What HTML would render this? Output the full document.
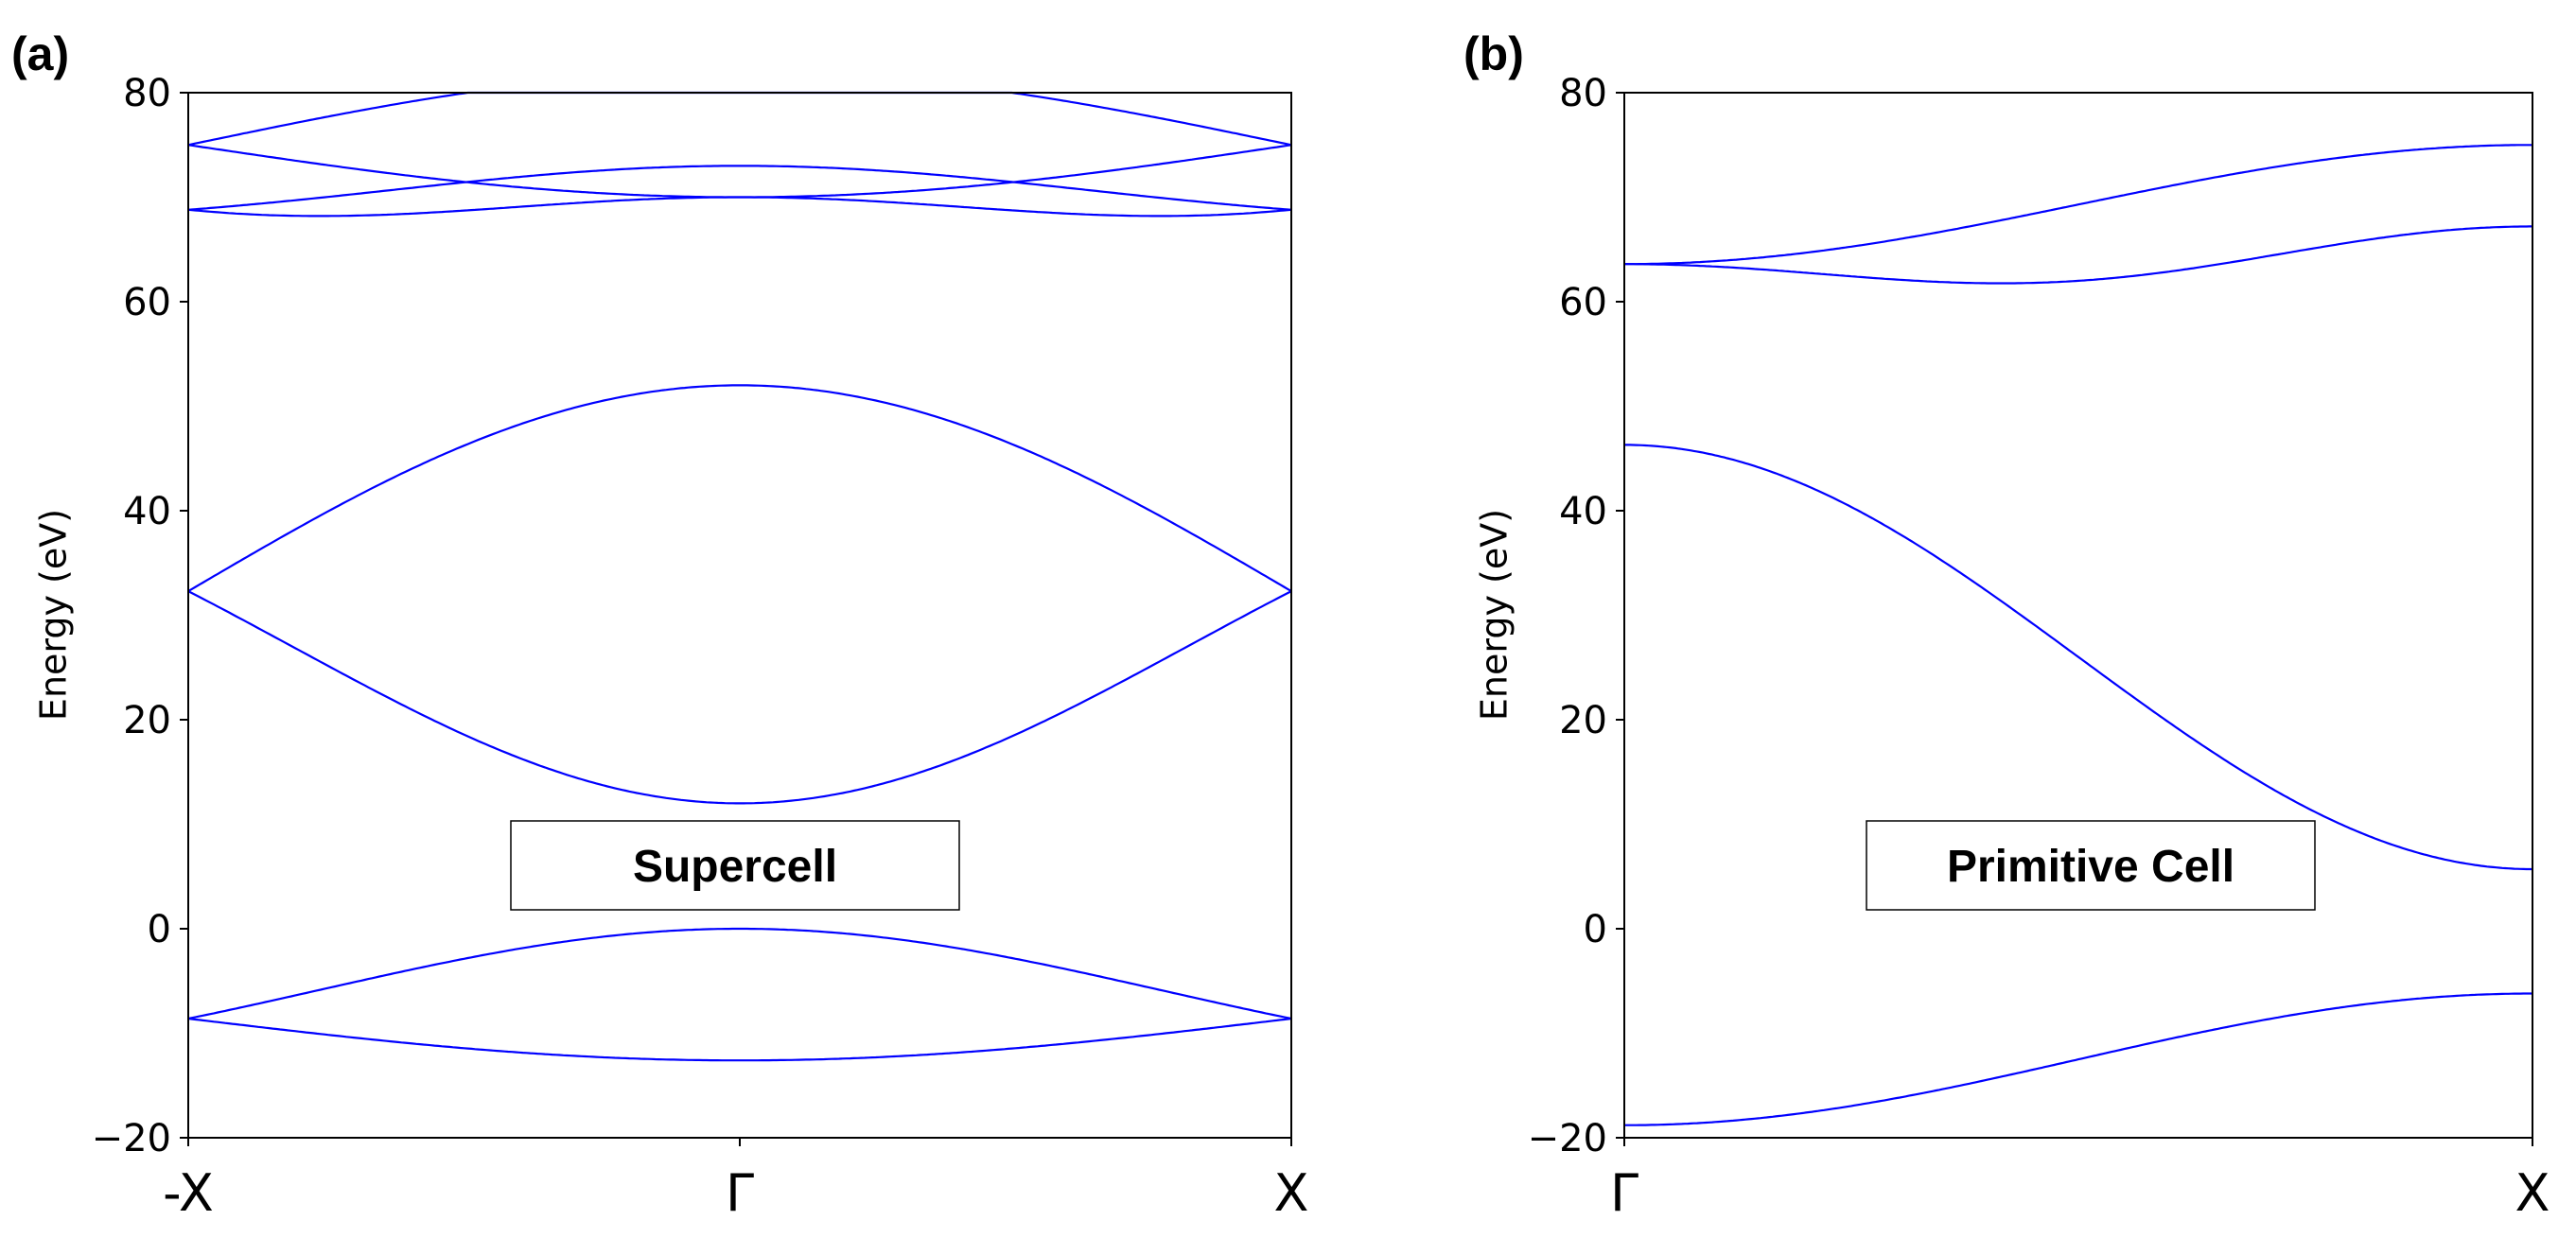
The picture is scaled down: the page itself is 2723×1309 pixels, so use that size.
<!DOCTYPE html>
<html><head><meta charset="utf-8"><style>
html,body{margin:0;padding:0;background:#fff}
svg{display:block}
text{font-family:"DejaVu Sans","Liberation Sans",sans-serif;fill:#000}
.b{font-family:"Liberation Sans",sans-serif;font-weight:bold}
</style></head><body>
<svg id="s" width="2723" height="1309" xmlns="http://www.w3.org/2000/svg">
<rect width="2723" height="1309" fill="#fff"/>
<g id="g"></g>
<text class="b" x="12" y="74" font-size="50">(a)</text>
<text class="b" x="1547" y="74" font-size="50">(b)</text>
<text x="59" y="650" font-size="38" text-anchor="middle" transform="rotate(-90 59 650)" dominant-baseline="middle">Energy (eV)</text>
<text x="1582" y="650" font-size="38" text-anchor="middle" transform="rotate(-90 1582 650)" dominant-baseline="middle">Energy (eV)</text>
<rect x="540" y="868" width="474" height="94" fill="#fff" stroke="#000" stroke-width="1.5"/>
<text class="b" x="777" y="932" font-size="48" text-anchor="middle">Supercell</text>
<rect x="1973" y="868" width="474" height="94" fill="#fff" stroke="#000" stroke-width="1.5"/>
<text class="b" x="2210" y="932" font-size="48" text-anchor="middle">Primitive Cell</text>
<text x="199" y="1280" font-size="54" text-anchor="middle">-X</text>
<text x="782" y="1280" font-size="54" text-anchor="middle">Γ</text>
<text x="1365" y="1280" font-size="54" text-anchor="middle">X</text>
<text x="1717" y="1280" font-size="54" text-anchor="middle">Γ</text>
<text x="2677" y="1280" font-size="54" text-anchor="middle">X</text>
</svg>
<script>
var g=document.getElementById('g'),NS='http://www.w3.org/2000/svg';
function Y(e){return 98+(80-e)*11.05;}
function el(n,a){var e=document.createElementNS(NS,n);for(var k in a)e.setAttribute(k,a[k]);g.appendChild(e);return e;}
function curve(x0,x1,f){var p=[];for(var i=0;i<=300;i++){var t=i/300;var e=Math.min(f(t),80);p.push((x0+(x1-x0)*t).toFixed(1)+','+Y(e).toFixed(1));}
el('polyline',{points:p.join(' '),fill:'none',stroke:'#0000ff','stroke-width':2.2});}
var PI=Math.PI,c=Math.cos,s=Math.sin;
function S(t){return s(PI*t);}
// panel a
var A=[199,1365];
curve(A[0],A[1],t=>75+7*S(t));
curve(A[0],A[1],t=>70+5*(1-S(t)));
curve(A[0],A[1],t=>68.8+4.2*(0.6*S(t)+0.4*S(t)*S(t)));
curve(A[0],A[1],t=>68.8-3.28*S(t)+4.48*S(t)*S(t));
curve(A[0],A[1],t=>32.3+19.7*S(t));
curve(A[0],A[1],t=>32.3-20.3*(0.85*S(t)+0.15*S(t)*S(t)));
curve(A[0],A[1],t=>-8.6+8.6*(0.8*S(t)+0.2*S(t)*S(t)));
curve(A[0],A[1],t=>-8.6-4*S(t));
// panel b
var B=[1717,2677];
curve(B[0],B[1],t=>63.6+11.4*(1-c(PI*t))/2);
curve(B[0],B[1],t=>63.7-1.8*c(PI*t)+1.7*c(2*PI*t));
curve(B[0],B[1],t=>26+20.3*c(PI*t));
curve(B[0],B[1],t=>-12.5-6.3*c(PI*t));
// axes
[[199,1365],[1717,2677]].forEach(function(r){
el('rect',{x:r[0],y:98,width:r[1]-r[0],height:1105,fill:'none',stroke:'#000','stroke-width':2});
[80,60,40,20,0,-20].forEach(function(v){var y=Y(v);
el('line',{x1:r[0]-9,x2:r[0],y1:y,y2:y,stroke:'#000','stroke-width':2});
var t=el('text',{x:r[0]-18,y:y+14,'font-size':40,'text-anchor':'end'});t.textContent=v<0?'\u2212'+(-v):v;});
var xs=r[0]==199?[199,782,1365]:[1717,2677];
xs.forEach(function(x){el('line',{x1:x,x2:x,y1:1203,y2:1212,stroke:'#000','stroke-width':2});});
});
</script>
</body></html>
